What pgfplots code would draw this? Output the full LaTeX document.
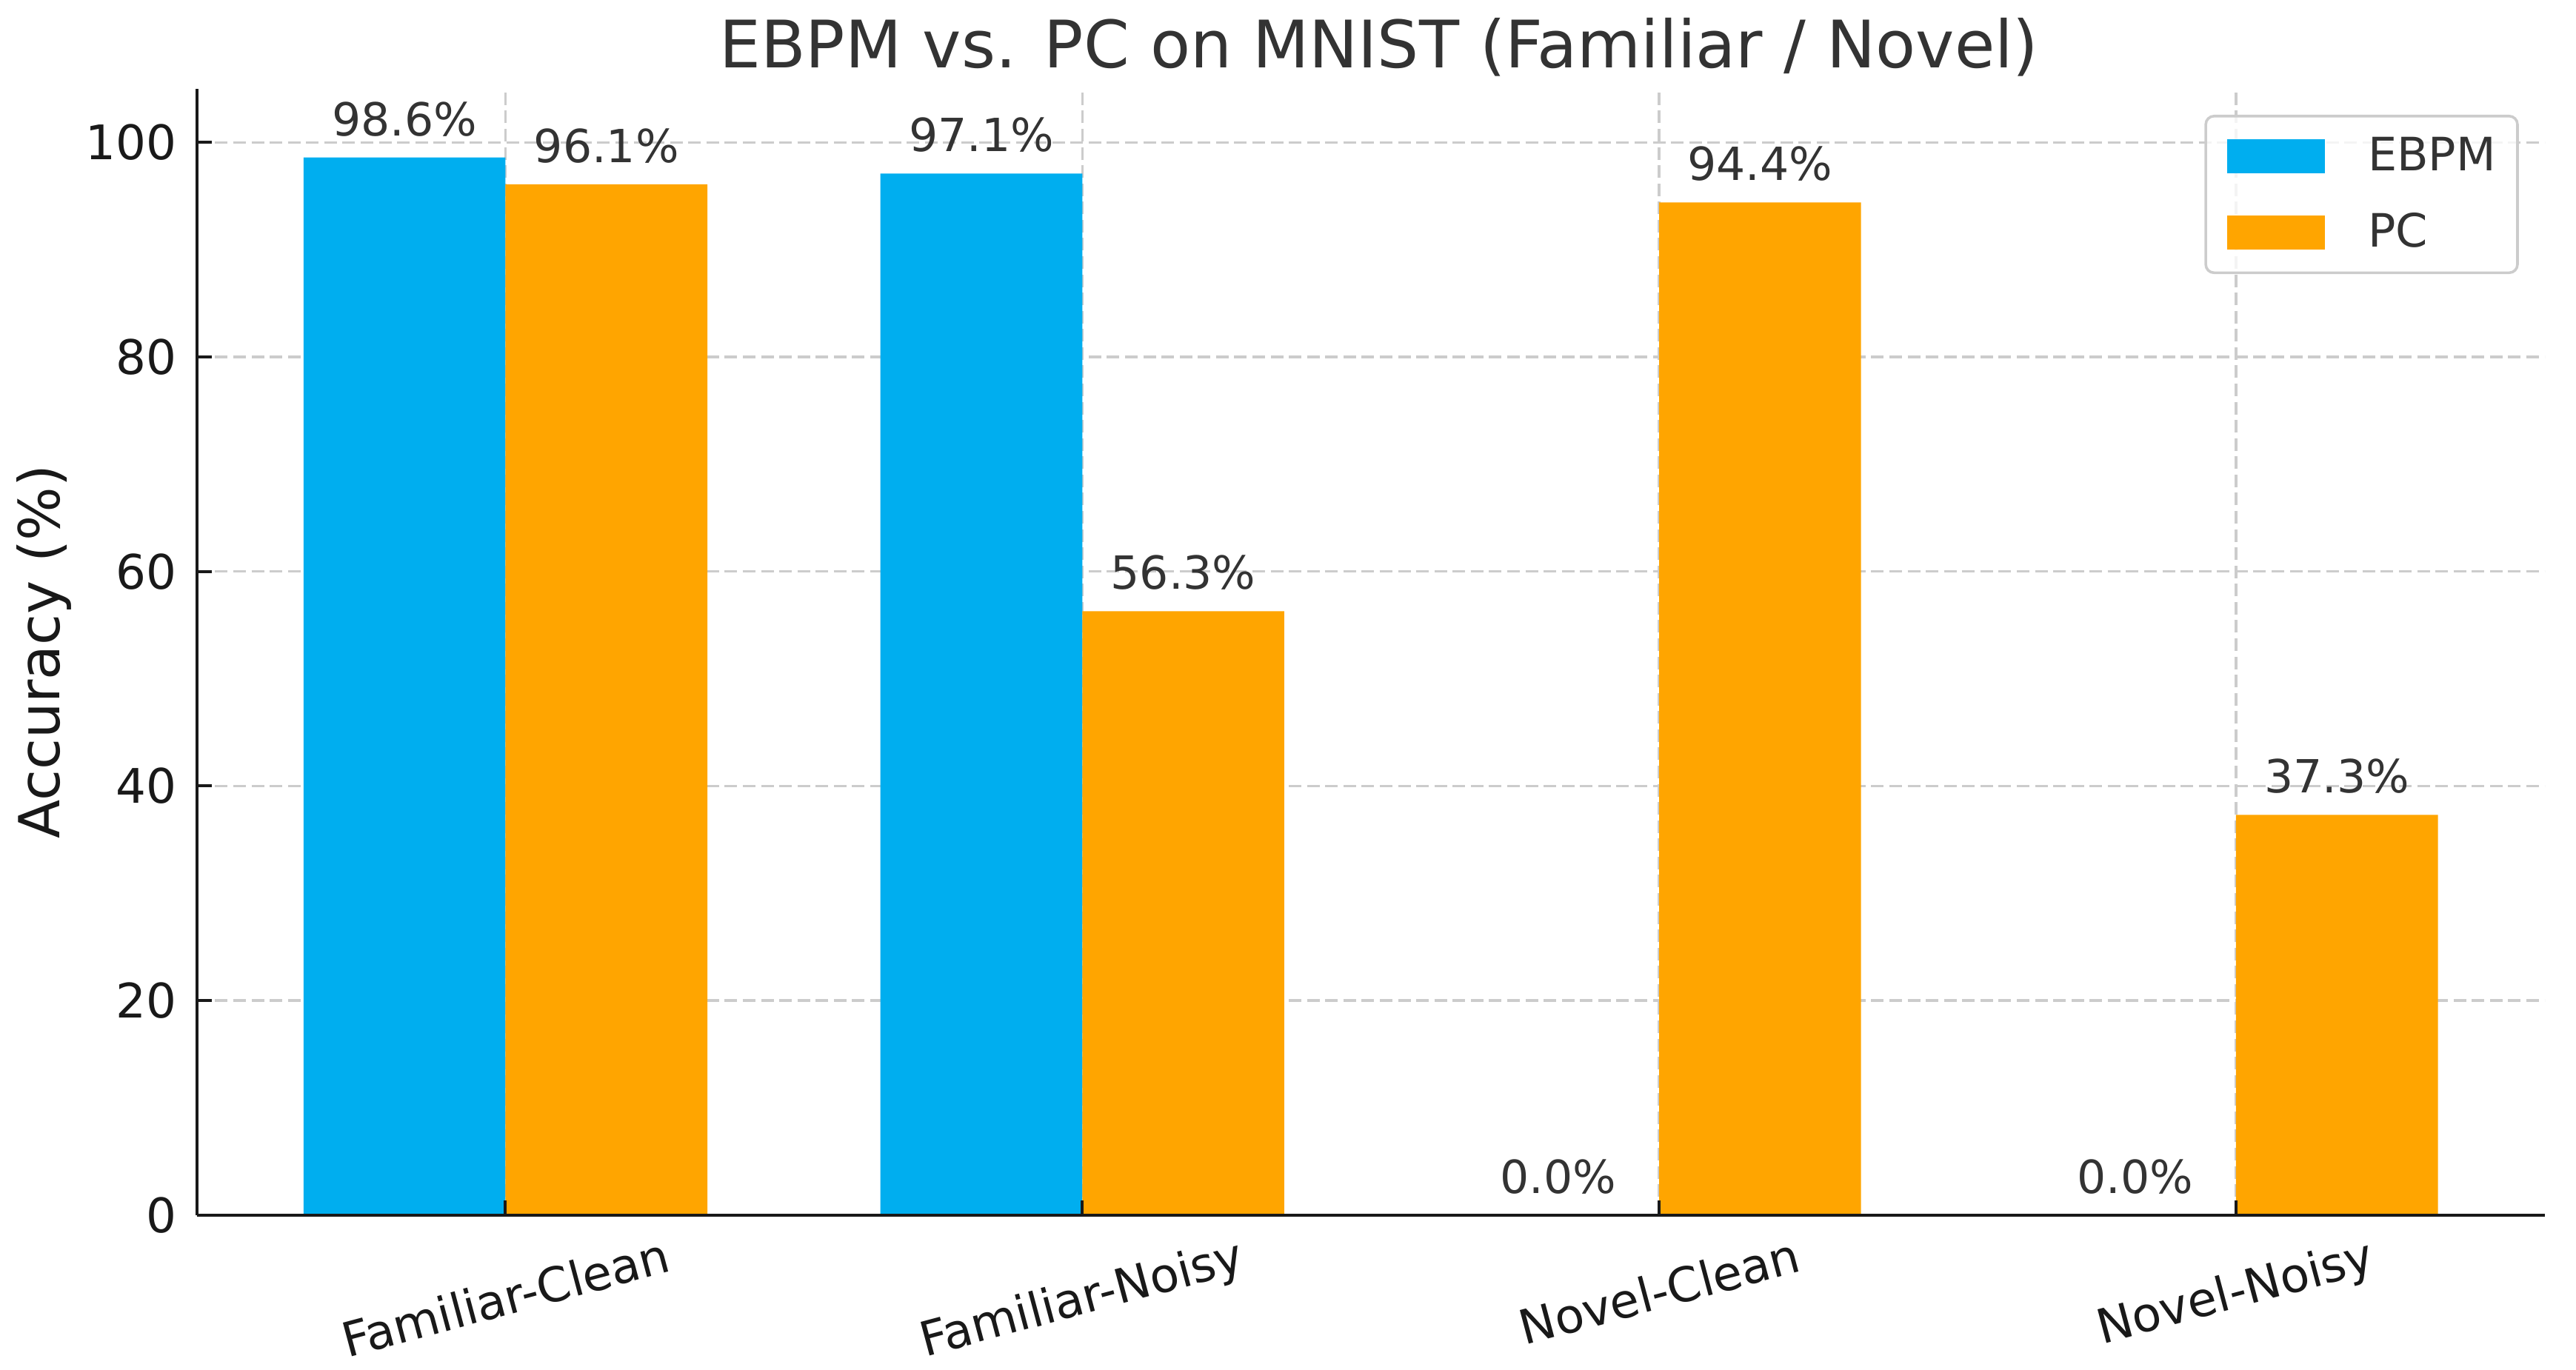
\documentclass[border=0pt]{standalone}
\usepackage{pgfplots}
\pgfplotsset{compat=1.18}
\usepackage{fontspec}
\setmainfont{DejaVu Sans}

\definecolor{ebpm}{RGB}{0,174,239}
\definecolor{pcor}{RGB}{255,165,0}
\definecolor{txt}{RGB}{51,51,51}
\definecolor{gridc}{RGB}{204,204,204}

% grid under the bars, ticks and spines over them
\pgfplotsset{
  layers/gridbelow/.define layer set={
    axis background,axis grid,main,axis ticks,axis lines,axis tick labels,axis descriptions,axis foreground
  }{
    grid style={/pgfplots/on layer=axis grid},
    tick style={/pgfplots/on layer=axis ticks},
    axis line style={/pgfplots/on layer=axis lines},
    label style={/pgfplots/on layer=axis descriptions},
    legend style={/pgfplots/on layer=axis descriptions},
    title style={/pgfplots/on layer=axis descriptions},
    ticklabel style={/pgfplots/on layer=axis tick labels},
  },
}

\begin{document}
\begin{tikzpicture}
\begin{axis}[
  name=ax,
  set layers=gridbelow,
  scale only axis,
  width=709.5pt, height=340.4pt,
  ybar, bar width=0.35,
  xmin=-0.535, xmax=3.535,
  ymin=0, ymax=105,
  clip=false,
  axis x line=bottom, axis y line=left,
  axis line style={-, line width=0.9pt, black!90},
  tick align=inside,
  major tick length=4.5pt,
  tick style={line width=0.9pt, black!90},
  xtick={0,1,2,3},
  xticklabels={\rotatebox{15}{Familiar-Clean},\rotatebox{15}{Familiar-Noisy},\rotatebox{15}{Novel-Clean},\rotatebox{15}{Novel-Noisy}},
  ytick={0,20,40,60,80,100},
  xmajorgrids, ymajorgrids,
  major grid style={gridc, line width=0.75pt, dash pattern=on 3.8pt off 1.7pt},
  /pgf/number format/assume math mode=true,
  xticklabel style={font=\fontsize{14.4}{17}\selectfont, black!90, anchor=north, inner sep=0pt, yshift=-6.1pt},
  yticklabel style={font=\fontsize{14.4}{17}\selectfont, black!90, anchor=east, inner sep=0pt, xshift=-6pt},
  ylabel={Accuracy (\%)},
  ylabel style={at={(axis description cs:0,0.5)}, anchor=center, yshift=46.25pt, font=\fontsize{17.1}{20}\selectfont, black!90},
  title={EBPM vs. PC on MNIST (Familiar / Novel)},
  title style={at={(axis description cs:0.5,1)}, anchor=base, yshift=0.35pt, xshift=2.5pt, font=\fontsize{19.8}{24}\selectfont, text=txt},
  nodes near coords={\pgfmathprintnumber[fixed,fixed zerofill,precision=1]{\pgfplotspointmeta}\%},
  nodes near coords style={font=\fontsize{13.8}{16}\selectfont, text=txt, anchor=south, inner sep=0pt, yshift=6.2pt},
  legend cell align=left,
  legend style={at={(rel axis cs:1,1)}, anchor=north east, xshift=-7.8pt, yshift=-7.85pt,
    draw=gridc, line width=0.8pt, rounded corners=2.5pt, fill=white, fill opacity=0.8,
    draw opacity=1, text opacity=1, inner xsep=6.5pt, inner ysep=6.3pt,
    row sep=11.3pt, column sep=13pt, font=\fontsize{13.9}{16}\selectfont, text=txt,
    nodes={inner sep=0pt}},
]
\addplot[fill=ebpm, draw=none, bar shift=-0.175,
  legend image code/.code={\fill[ebpm, sharp corners, fill opacity=1] (0pt,-5.15pt) rectangle (29.5pt,5.15pt);}]
  coordinates {(0,98.6) (1,97.1) (2,0.0) (3,0.0)};
\addlegendentry{EBPM}
\addplot[fill=pcor, draw=none, bar shift=0.175,
  legend image code/.code={\fill[pcor, sharp corners, fill opacity=1] (0pt,-5.15pt) rectangle (29.5pt,5.15pt);}]
  coordinates {(0,96.1) (1,56.3) (2,94.4) (3,37.3)};
\addlegendentry{PC}
\end{axis}
\pgfresetboundingbox
\path ([shift={(-59.5pt,-46.75pt)}]ax.south west) rectangle ([shift={(9.5pt,26.85pt)}]ax.north east);
\end{tikzpicture}
\end{document}
